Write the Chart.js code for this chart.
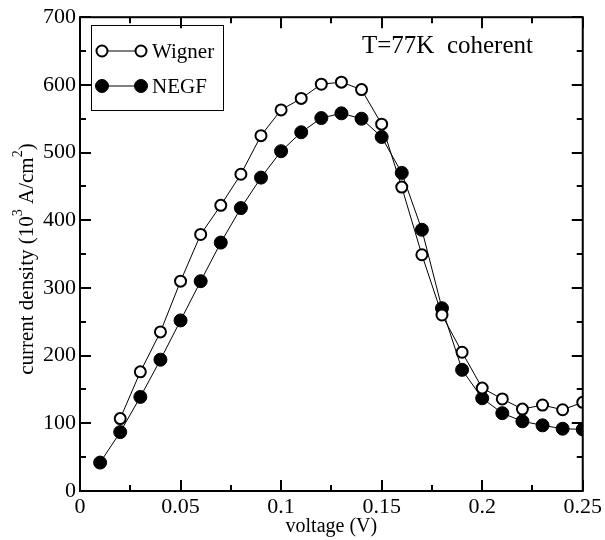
<!DOCTYPE html>
<html>
<head>
<meta charset="utf-8">
<script src="https://cdn.jsdelivr.net/npm/chart.js@4"></script>
<style>
  html, body { margin: 0; padding: 0; background: #fff; }
  #wrap { width: 605px; height: 540px; }
</style>
</head>
<body>
<div id="wrap"><canvas id="ivChart" width="605" height="540"></canvas></div>
<script>
// Data
const voltageWigner = [0.02, 0.03, 0.04, 0.05, 0.06, 0.07, 0.08, 0.09, 0.10, 0.11, 0.12, 0.13,
  0.14, 0.15, 0.16, 0.17, 0.18, 0.19, 0.20, 0.21, 0.22, 0.23, 0.24, 0.25];
const currentWigner = [107, 176, 235, 310, 379, 422, 468, 525, 563, 580, 601, 604,
  593, 542, 449, 349, 260, 205, 152, 136, 121, 127, 120, 131];
const voltageNegf = [0.01, 0.02, 0.03, 0.04, 0.05, 0.06, 0.07, 0.08, 0.09, 0.10, 0.11, 0.12, 0.13,
  0.14, 0.15, 0.16, 0.17, 0.18, 0.19, 0.20, 0.21, 0.22, 0.23, 0.24, 0.25];
const currentNegf = [42, 87, 139, 194, 252, 310, 367, 418, 463, 502, 530, 551, 558,
  550, 523, 470, 386, 270, 179, 137, 115, 103, 97, 92, 91];
const xTicks = [0, 0.05, 0.1, 0.15, 0.2, 0.25];
const yTicks = [0, 100, 200, 300, 400, 500, 600, 700];
const seriesNames = ['Wigner', 'NEGF'];
const annotationText = 'T=77K  coherent';

const FONT = "'Liberation Serif', 'DejaVu Serif', serif";

function toPoints(xs, ys) {
  return xs.map((x, i) => ({ x: x, y: ys[i] }));
}

// y title with real superscripts: [text, superscript?]
const yTitleParts = [['current density (10', false], ['3', true], [' A/cm', false], ['2', true], [')', false]];

// Inward ticks on all four sides, frame, legend, annotation, y title
const frameTicks = {
  id: 'frameTicks',
  afterDatasetsDraw(chart) {
    const ctx = chart.ctx;
    const a = chart.chartArea;
    const xs = chart.scales.x, ys = chart.scales.y;
    ctx.save();
    ctx.strokeStyle = '#000';
    ctx.lineWidth = 2;
    ctx.strokeRect(a.left, a.top, a.right - a.left, a.bottom - a.top);
    ctx.beginPath();
    for (let v = 0; v <= 0.25 + 1e-9; v += 0.025) {
      const px = Math.round(xs.getPixelForValue(v));
      const major = Math.abs(v / 0.05 - Math.round(v / 0.05)) < 1e-6;
      const len = major ? 11 : 6;
      ctx.moveTo(px, a.bottom); ctx.lineTo(px, a.bottom - len);
      ctx.moveTo(px, a.top); ctx.lineTo(px, a.top + len);
    }
    for (let v = 0; v <= 700; v += 50) {
      const py = Math.round(ys.getPixelForValue(v));
      const len = v % 100 === 0 ? 11 : 6;
      ctx.moveTo(a.left, py); ctx.lineTo(a.left + len, py);
      ctx.moveTo(a.right, py); ctx.lineTo(a.right - len, py);
    }
    ctx.stroke();

    // annotation
    ctx.fillStyle = '#000';
    ctx.font = '25px ' + FONT;
    ctx.textBaseline = 'alphabetic';
    ctx.textAlign = 'left';
    ctx.fillText(annotationText, 362, 53);

    // legend box
    ctx.lineWidth = 1;
    ctx.strokeRect(91.5, 25.5, 132, 85);
    const rows = [51, 86];
    chart.data.datasets.forEach((ds, i) => {
      const y = rows[i];
      ctx.beginPath();
      ctx.moveTo(102, y); ctx.lineTo(141, y);
      ctx.lineWidth = 1;
      ctx.stroke();
      [102, 141].forEach(cx => {
        ctx.beginPath();
        ctx.arc(cx, y, ds.pointRadius, 0, Math.PI * 2);
        ctx.fillStyle = ds.pointBackgroundColor;
        ctx.fill();
        ctx.lineWidth = ds.pointBorderWidth;
        ctx.stroke();
      });
      ctx.fillStyle = '#000';
      ctx.font = '21px ' + FONT;
      ctx.textBaseline = 'alphabetic';
      ctx.fillText(ds.label, 152, y + 7);
    });

    // y axis title, rotated
    const mainFont = '21px ' + FONT, supFont = '14px ' + FONT;
    let total = 0;
    yTitleParts.forEach(([t, sup]) => {
      ctx.font = sup ? supFont : mainFont;
      total += ctx.measureText(t).width;
    });
    ctx.translate(33, (a.top + a.bottom) / 2 + 5);
    ctx.rotate(-Math.PI / 2);
    ctx.textBaseline = 'alphabetic';
    ctx.fillStyle = '#000';
    let xo = -total / 2;
    yTitleParts.forEach(([t, sup]) => {
      ctx.font = sup ? supFont : mainFont;
      ctx.fillText(t, xo, sup ? -11 : 0);
      xo += ctx.measureText(t).width;
    });
    ctx.restore();
  }
};

const ctx = document.getElementById('ivChart').getContext('2d');
new Chart(ctx, {
  type: 'line',
  data: {
    datasets: [
      {
        label: seriesNames[0],
        data: toPoints(voltageWigner, currentWigner),
        borderColor: '#000',
        borderWidth: 1,
        pointRadius: 5.5,
        pointBorderWidth: 2,
        pointBackgroundColor: '#fff',
        pointBorderColor: '#000',
        tension: 0
      },
      {
        label: seriesNames[1],
        data: toPoints(voltageNegf, currentNegf),
        borderColor: '#000',
        borderWidth: 1,
        pointRadius: 6.5,
        pointBorderWidth: 1,
        pointBackgroundColor: '#000',
        pointBorderColor: '#000',
        tension: 0
      }
    ]
  },
  options: {
    responsive: false,
    animation: false,
    layout: { padding: { top: 14, right: 20, left: 0, bottom: 0 } },
    plugins: { legend: { display: false }, tooltip: { enabled: false } },
    scales: {
      x: {
        type: 'linear',
        min: 0,
        max: 0.25,
        afterBuildTicks: s => { s.ticks = xTicks.map(v => ({ value: v })); },
        afterFit: s => { s.height = 49; },
        grid: { display: false, drawTicks: false },
        border: { display: false },
        ticks: {
          color: '#000',
          padding: 3,
          font: { family: FONT, size: 22 },
          callback: v => String(+v.toFixed(2))
        },
        title: {
          display: true,
          text: 'voltage (V)',
          color: '#000',
          font: { family: FONT, size: 20 },
          padding: { top: 0, bottom: 1 }
        }
      },
      y: {
        min: 0,
        max: 700,
        afterBuildTicks: s => { s.ticks = yTicks.map(v => ({ value: v })); },
        afterFit: s => { s.width = 80; },
        grid: { display: false, drawTicks: false },
        border: { display: false },
        ticks: {
          color: '#000',
          padding: 4,
          font: { family: FONT, size: 22 }
        }
      }
    }
  },
  plugins: [frameTicks]
});
</script>
</body>
</html>
